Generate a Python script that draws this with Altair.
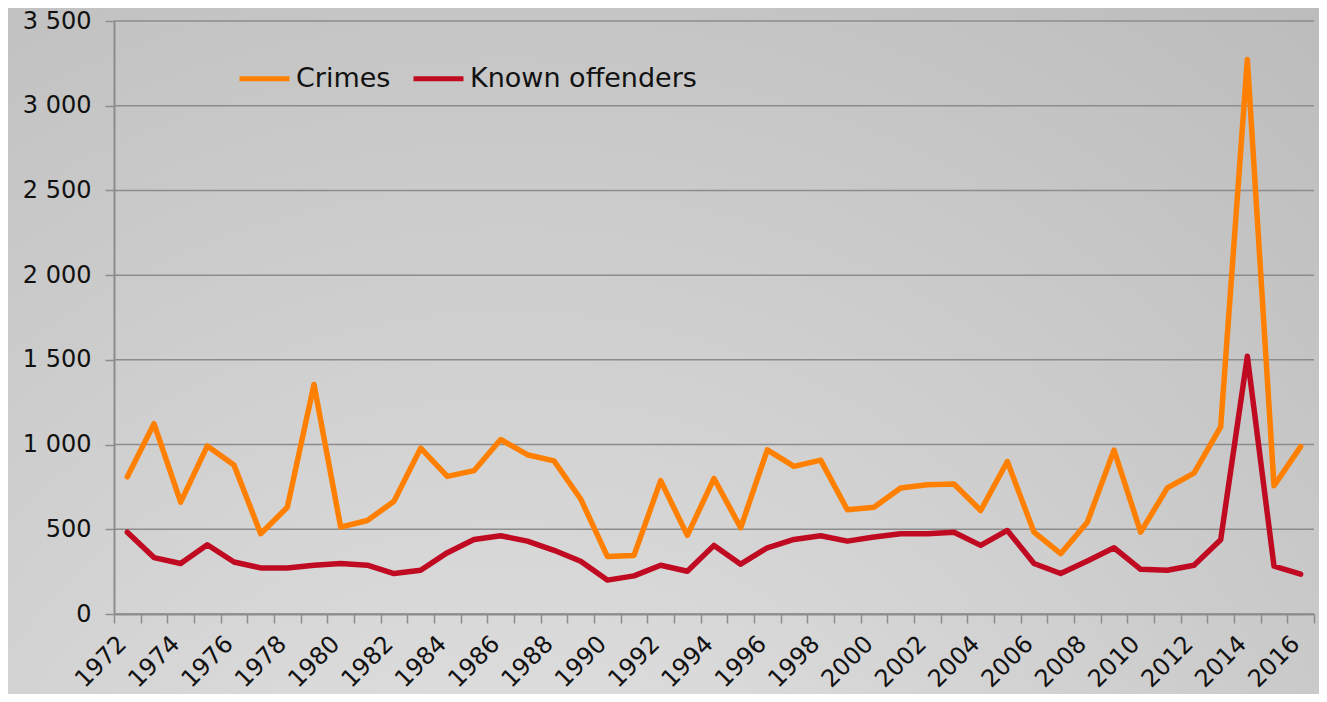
import altair as alt
import pandas as pd

years = list(range(1972, 2017))
crimes = [810, 1123, 660, 992, 879, 474, 630, 1355, 513, 552,
          665, 979, 812, 846, 1030, 940, 904, 679, 340, 346,
          787, 464, 800, 509, 969, 871, 908, 615, 630, 744,
          763, 767, 611, 900, 483, 356, 542, 967, 483, 744,
          832, 1104, 3273, 757, 988]
offenders = [483, 333, 298, 409, 307, 272, 272, 288, 298, 288,
             239, 258, 362, 440, 462, 430, 376, 311, 200, 225,
             288, 252, 405, 294, 391, 440, 462, 430, 454, 474,
             474, 483, 405, 493, 298, 239, 313, 391, 264, 258,
             288, 438, 1521, 282, 235]
series_names = ["Crimes", "Known offenders"]
series_colors = ["#FF8000", "#C00A22"]
y_ticks = [0, 500, 1000, 1500, 2000, 2500, 3000, 3500]

W, H = 1200, 593
PAD = {"left": 106, "top": 13, "right": 5, "bottom": 80}

df = pd.DataFrame({
    "Year": years * 2,
    "Value": crimes + offenders,
    "Series": [series_names[0]] * len(years) + [series_names[1]] * len(years),
})

FONT = "DejaVu Sans"
GRAY = "#8c8c8c"

bg = alt.Chart(pd.DataFrame({"a": [0]})).mark_rect(
    color={
        "gradient": "radial",
        "x1": 0.38, "y1": 1.0, "r1": 0,
        "x2": 0.38, "y2": 1.0, "r2": 1.25,
        "stops": [
            {"offset": 0, "color": "#e6e6e6"},
            {"offset": 1, "color": "#b0b0b0"},
        ],
    }
).encode(
    x=alt.value(-PAD["left"]),
    x2=alt.value(W + PAD["right"] + 10),
    y=alt.value(-PAD["top"]),
    y2=alt.value(H + PAD["bottom"]),
)

grid = alt.Chart(pd.DataFrame({"t": y_ticks})).mark_rule(
    color=GRAY, strokeWidth=1.5
).encode(y=alt.Y("t:Q", scale=alt.Scale(domain=[0, 3500])))

lines = alt.Chart(df).mark_line(strokeWidth=5.5, strokeCap="round", strokeJoin="round").encode(
    x=alt.X(
        "Year:O",
        scale=alt.Scale(type="band", paddingInner=0, paddingOuter=0),
        axis=alt.Axis(
            title=None,
            labelAngle=-45,
            labelAlign="right",
            labelBaseline="alphabetic",
            labelExpr="datum.value % 2 == 0 ? datum.label : ''",
            tickBand="extent",
            tickSize=9,
            tickColor=GRAY,
            tickWidth=1.5,
            domainColor=GRAY,
            domainWidth=2,
            labelFont=FONT,
            labelFontSize=24,
            labelColor="#111111",
            labelPadding=22,
            labelOverlap=False,
            grid=False,
            zindex=1,
        ),
    ),
    y=alt.Y(
        "Value:Q",
        scale=alt.Scale(domain=[0, 3500]),
        axis=alt.Axis(
            title=None,
            values=y_ticks,
            labelExpr="replace(format(datum.value, ','), ',', ' ')",
            tickSize=9,
            tickColor=GRAY,
            tickWidth=1.5,
            domainColor=GRAY,
            domainWidth=2,
            labelFont=FONT,
            labelFontSize=24,
            labelColor="#111111",
            labelPadding=14,
            grid=False,
            zindex=1,
        ),
    ),
    color=alt.Color(
        "Series:N",
        scale=alt.Scale(domain=series_names, range=series_colors),
        legend=alt.Legend(
            title=None,
            orient="none",
            legendX=123,
            legendY=30,
            direction="horizontal",
            symbolType="stroke",
            symbolStrokeWidth=5,
            symbolSize=2500,
            labelFont=FONT,
            labelFontSize=27,
            labelColor="#111111",
            labelOffset=4,
            labelLimit=0,
            columnPadding=12,
            padding=0,
        ),
    ),
)

chart = alt.layer(bg, grid, lines).properties(
    width=W,
    height=H,
    padding=PAD,
    autosize=alt.AutoSizeParams(type="none"),
    background="#d0d0d0",
).configure_view(stroke=None)

chart.save("out.html", embed_options={"renderer": "svg", "actions": False})
